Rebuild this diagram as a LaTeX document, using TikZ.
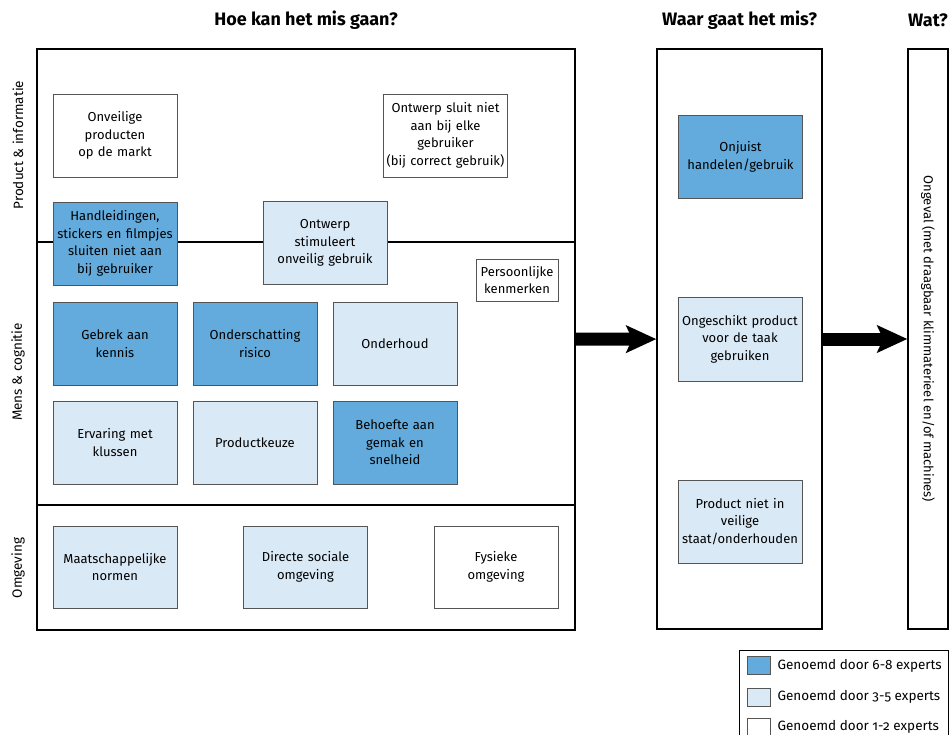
\documentclass[tikz,border=0pt]{standalone}
\usepackage{fontspec}
\setmainfont{Fira Sans}[Numbers=OldStyle]
\usepackage{tikz}
\usetikzlibrary{arrows,arrows.meta}
\usetikzlibrary{backgrounds,calc,fit,positioning,shapes}

\definecolor{expertHigh}{RGB}{98,171,220}
\definecolor{expertMid}{RGB}{217,233,246}
\definecolor{boxLine}{RGB}{85,85,85}

\newcommand{\boxfont}{\fontsize{13}{17.5}\selectfont}
\newcommand{\sidefont}{\fontsize{13.5}{16}\selectfont}
\newcommand{\headfont}{\fontsize{18}{21}\selectfont\bfseries}

\tikzset{
    factor/.style={
        draw=boxLine, fill=#1, line width=0.8pt,
        minimum width=124pt, minimum height=83pt,
        text width=122pt, align=center, inner sep=1pt,
        font=\boxfont
    },
    factor/.default={white}
}
\tikzset{
    frame/.style={draw=black, line width=1.4pt, inner sep=0pt},
    sidelabel/.style={rotate=90, font=\sidefont, inner sep=0pt},
    headlabel/.style={font=\headfont, inner sep=0pt},
    bigarrow/.style={line width=13pt, -{Stealth[length=30pt, width=27pt, inset=6pt]}},
    swatch/.style={draw=boxLine, line width=0.8pt, minimum width=23pt, minimum height=18pt, inner sep=0pt},
    legendtext/.style={font=\sidefont, inner sep=0pt, anchor=west}
}

\begin{document}
\begin{tikzpicture}[x=1pt, y=-1pt]
    \useasboundingbox (0,0) rectangle (949,735);
    % kolommen
    \node[frame, minimum width=538pt, minimum height=581pt] (hoe) at (306,339.5) {};
    \node[frame, minimum width=165pt, minimum height=580pt] (waar) at (739.5,339) {};
    \node[frame, minimum width=40pt, minimum height=580pt] (wat) at (928,339) {};
    \coordinate (splitA) at (0,242);
    \coordinate (splitB) at (0,505);
    \draw[line width=1.3pt] (hoe.west |- splitA) -- (hoe.east |- splitA);
    \draw[line width=1.3pt] (hoe.west |- splitB) -- (hoe.east |- splitB);

    \node[headlabel] (hoeKop) at (hoe.north |- 0,20) {Hoe kan het mis gaan?};
    \node[headlabel] (waarKop) at (waar.north |- 0,20) {Waar gaat het mis?};
    \node[headlabel] (watKop) at (wat.north |- 0,20) {Wat?};

    \node[sidelabel] (prodLabel) at (18,145) {Product \& informatie};
    \node[sidelabel] (mensLabel) at (18,372) {Mens \& cognitie};
    \node[sidelabel] (omgLabel) at (18,568) {Omgeving};

    % product & informatie
    \node[factor] (onveilig) at (115,135.5) {Onveilige\\producten\\op de markt};
    \node[factor] (sluitNiet) at (445.5,135.5) {Ontwerp sluit niet\\aan bij elke\\gebruiker\\(bij correct gebruik)};
    \node[factor=expertHigh] (handleiding) at (115,243.5) {Handleidingen,\\stickers en filmpjes\\sluiten niet aan\\bij gebruiker};
    \node[factor=expertMid] (stimuleert) at (325,243) {Ontwerp\\stimuleert\\onveilig gebruik};
    \node[factor, minimum width=82pt, minimum height=42pt, text width=80pt] (persoon) at (517,280) {Persoonlijke\\kenmerken};

    % mens & cognitie
    \node[factor=expertHigh] (kennis) at (115,343.5) {Gebrek aan\\kennis};
    \node[factor=expertHigh] (risico) at (255,343.5) {Onderschatting\\risico};
    \node[factor=expertMid] (onderhoud) at (395,343.5) {Onderhoud};
    \node[factor=expertMid] (ervaring) at (115,442.5) {Ervaring met\\klussen};
    \node[factor=expertMid] (keuze) at (255,442.5) {Productkeuze};
    \node[factor=expertHigh] (gemak) at (395,442.5) {Behoefte aan\\gemak en\\snelheid};

    % omgeving
    \node[factor=expertMid, minimum height=82pt] (normen) at (115,567) {Maatschappelijke\\normen};
    \node[factor=expertMid, minimum height=82pt] (sociaal) at (305.5,567) {Directe sociale\\omgeving};
    \node[factor, minimum height=82pt] (fysiek) at (496,567) {Fysieke\\omgeving};

    % waar gaat het mis
    \node[factor=expertHigh] (onjuist) at (740.5,157) {Onjuist\\handelen/gebruik};
    \node[factor=expertMid, minimum height=84pt] (ongeschikt) at (740,339) {Ongeschikt product\\voor de taak\\gebruiken};
    \node[factor=expertMid] (staat) at (740,521.5) {Product niet in\\veilige\\staat/onderhouden};

    \node[rotate=-90, font=\boxfont, inner sep=0pt] (ongeval) at (wat.center) {Ongeval (met draagbaar klimmaterieel en/of machines)};

    \draw[bigarrow] (hoe) -- (waar);
    \draw[bigarrow] (waar) -- (wat);

    % legenda
    \draw[line width=1pt] (739,650) rectangle (948,745);
    \node[swatch, fill=expertHigh] (lgHigh) at (758.5,665.5) {};
    \node[swatch, fill=expertMid] (lgMid) at (758.5,697) {};
    \node[swatch, fill=white] (lgLow) at (758.5,727) {};
    \node[legendtext, right=7pt of lgHigh] (lgHighText) {Genoemd door 6-8 experts};
    \node[legendtext, right=7pt of lgMid] (lgMidText) {Genoemd door 3-5 experts};
    \node[legendtext, right=7pt of lgLow] (lgLowText) {Genoemd door 1-2 experts};
\end{tikzpicture}
\end{document}
